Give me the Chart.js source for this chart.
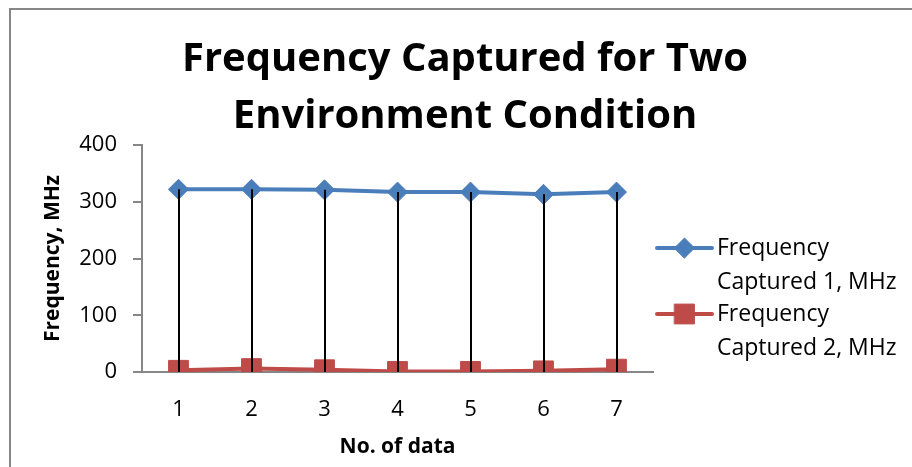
<!DOCTYPE html>
<html>
<head>
<meta charset="utf-8">
<script src="https://cdn.jsdelivr.net/npm/chart.js@4/dist/chart.umd.min.js"></script>
<style>
  html, body { margin: 0; padding: 0; background: #fff; }
  #wrap { width: 912px; height: 467px; }
</style>
</head>
<body>
<div id="wrap"><canvas id="chart" width="912" height="467"></canvas></div>
<script>
const categories = ["1", "2", "3", "4", "5", "6", "7"];
const freq1 = [322, 322, 321, 317, 317, 313, 317];
const freq2 = [3, 6, 4, 1, 1, 2, 5];
const seriesNames = ["Frequency Captured 1, MHz", "Frequency Captured 2, MHz"];
const yTicks = [0, 100, 200, 300, 400];

const BLUE = "#4A7EBB";
const RED = "#BE4B48";
const AXIS = "#868686";
const FONT = "'Open Sans', 'DejaVu Sans', sans-serif";

// outer frame of the chart object
const framePlugin = {
  id: "frame",
  beforeDraw(chart) {
    const ctx = chart.ctx;
    ctx.save();
    ctx.fillStyle = "#fff";
    ctx.fillRect(0, 0, chart.width, chart.height);
    ctx.strokeStyle = AXIS;
    ctx.lineWidth = 2;
    ctx.strokeRect(10, 9, chart.width + 20, chart.height + 20);
    ctx.restore();
  }
};

// drop lines: from the highest point of each category down to the axis
const dropLines = {
  id: "dropLines",
  afterDatasetsDraw(chart) {
    const { ctx, scales: { x, y } } = chart;
    ctx.save();
    ctx.strokeStyle = "#000";
    ctx.lineWidth = 2;
    categories.forEach((c, i) => {
      const top = Math.max(...chart.data.datasets.map(ds => ds.data[i]));
      const px = Math.round(x.getPixelForValue(i));
      ctx.beginPath();
      ctx.moveTo(px, y.getPixelForValue(top));
      ctx.lineTo(px, y.getPixelForValue(0));
      ctx.stroke();
    });
    ctx.restore();
  }
};

// legend on the right, label wrapped after the first word like Excel does
const sideLegend = {
  id: "sideLegend",
  afterDraw(chart) {
    const ctx = chart.ctx;
    const x0 = 657, x1 = 712, tx = 717;
    const rows = [248, 314];
    ctx.save();
    chart.data.datasets.forEach((ds, i) => {
      const cy = rows[i];
      ctx.strokeStyle = ds.borderColor;
      ctx.lineWidth = 4;
      ctx.lineCap = "round";
      ctx.beginPath();
      ctx.moveTo(x0, cy);
      ctx.lineTo(x1, cy);
      ctx.stroke();
      ctx.fillStyle = ds.pointBackgroundColor;
      ctx.strokeStyle = ds.pointBorderColor;
      ctx.lineWidth = 1;
      Chart.helpers.drawPoint(ctx, { pointStyle: ds.pointStyle, radius: ds.pointRadius, rotation: 0, borderWidth: 1 }, (x0 + x1) / 2, cy);
      const words = ds.label.split(" ");
      const lines = [words[0], words.slice(1).join(" ")];
      ctx.fillStyle = "#000";
      ctx.font = "23px " + FONT;
      ctx.textAlign = "left";
      ctx.textBaseline = "middle";
      lines.forEach((t, k) => ctx.fillText(t, tx, cy + k * 34));
    });
    ctx.restore();
  }
};

new Chart(document.getElementById("chart"), {
  type: "line",
  data: {
    labels: categories,
    datasets: [
      {
        label: seriesNames[0],
        data: freq1,
        borderColor: BLUE,
        backgroundColor: BLUE,
        pointBackgroundColor: BLUE,
        pointBorderColor: BLUE,
        borderWidth: 4,
        pointStyle: "rectRot",
        pointRadius: 10,
        pointBorderWidth: 1,
        tension: 0
      },
      {
        label: seriesNames[1],
        data: freq2,
        borderColor: RED,
        backgroundColor: RED,
        pointBackgroundColor: RED,
        pointBorderColor: RED,
        borderWidth: 4,
        pointStyle: "rect",
        pointRadius: 14,
        pointBorderWidth: 1,
        tension: 0
      }
    ]
  },
  options: {
    responsive: false,
    animation: false,
    layout: { padding: { left: 18, right: 0, top: 0, bottom: 0 } },
    plugins: {
      legend: { display: false },
      tooltip: { enabled: false },
      title: {
        display: true,
        text: ["Frequency Captured for Two", "Environment Condition"],
        color: "#000",
        font: { family: FONT, size: 40, weight: "bold", lineHeight: 1.425 },
        padding: { top: 31, bottom: 0 }
      }
    },
    scales: {
      x: {
        offset: true,
        grid: { display: false, drawTicks: false },
        border: { display: true, color: AXIS, width: 2 },
        ticks: { color: "#000", font: { family: FONT, size: 22 }, padding: 25 },
        title: {
          display: true,
          text: "No. of data",
          color: "#000",
          font: { family: FONT, size: 21, weight: "bold" },
          padding: { top: 0, bottom: 7 }
        },
        afterFit(scale) { scale.height = 95; }
      },
      y: {
        min: 0,
        max: 400,
        afterBuildTicks(scale) { scale.ticks = yTicks.map(v => ({ value: v })); },
        grid: { display: true, drawOnChartArea: false, tickLength: 9, color: AXIS, lineWidth: 2 },
        border: { display: true, color: AXIS, width: 2 },
        ticks: { color: "#000", font: { family: FONT, size: 22 }, padding: 16 },
        title: {
          display: true,
          text: "Frequency, MHz",
          color: "#000",
          font: { family: FONT, size: 21, weight: "bold" },
          padding: { top: 22, bottom: 0 }
        },
        afterFit(scale) { scale.width = 124; }
      },
      // empty right-hand box that keeps room for the legend
      legendSpace: {
        type: "linear",
        position: "right",
        display: true,
        grid: { display: false },
        border: { display: false },
        ticks: { display: false },
        afterFit(scale) { scale.width = 259; }
      }
    }
  },
  plugins: [framePlugin, dropLines, sideLegend]
});
</script>
</body>
</html>
